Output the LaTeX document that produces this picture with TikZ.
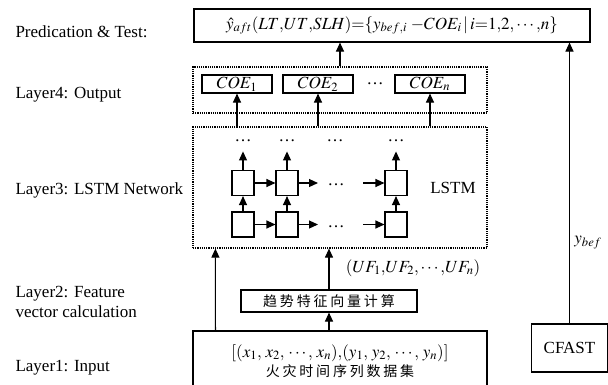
\documentclass[tikz,border=0pt]{standalone}
\usepackage{mathptmx}
\usepackage{fontspec}
\setmainfont{Liberation Serif}
\newfontfamily\cjk[LetterSpace=20]{Noto Sans CJK SC}
\usetikzlibrary{arrows.meta, positioning}
\tikzset{
  box/.style={draw, line width=1.1pt, inner sep=0pt},
  dotbox/.style={draw, line width=1.2pt, densely dotted, inner sep=0pt},
  cell/.style={draw, line width=1.1pt, minimum width=22, minimum height=25, inner sep=0pt},
  arr/.style={-{Triangle[length=9pt,width=8pt]}, line width=1.1pt},
  lbl/.style={anchor=west, align=left},
  dots/.style={anchor=base, inner sep=0pt},
}

\begin{document}
\begin{tikzpicture}[x=1pt, y=-1pt, font=\fontsize{17}{20}\selectfont]
    \useasboundingbox (0,0) rectangle (608,384);
    % layer names
    \node[lbl] (tpred) at (12,32) {Predication \& Test:};
    \node[lbl] (tout) at (12,95) {Layer4: Output};
    \node[lbl] (tlstm) at (12,190) {Layer3: LSTM Network};
    \node[lbl] (tfeat) at (12,302) {Layer2: Feature\\vector calculation};
    \node[lbl] (tin) at (12,368) {Layer1: Input};

    \node[box, minimum width=396, minimum height=33] (pred) at (392,25.5)
        {$\hat{y}_{aft}(LT{,}UT{,}SLH){=}\{y_{bef,i}\;{-}COE_i\,|\,i{=}1{,}2{,}\cdots{,}n\}$};

    % output layer
    \node[dotbox, minimum width=294, minimum height=46] (outbox) at (340,90) {};
    \node[box, minimum width=70, minimum height=18] (coe1) at (237,84) {$COE_1$};
    \node[box, minimum width=70, minimum height=18] (coe2) at (318,84) {$COE_2$};
    \node[box, minimum width=70, minimum height=18] (coen) at (430,84) {$COE_n$};
    \node (coedots) at (375,84) {\ldots};
    \draw[arr] (outbox.north) -- (pred.south -| outbox.north);

    % lstm layer
    \node[dotbox, minimum width=294, minimum height=121] (lstm) at (340,187.5) {};
    \draw[arr] (coe1.south |- lstm.north) -- (coe1.south);
    \draw[arr] (coe2.south |- lstm.north) -- (coe2.south);
    \draw[arr] (coen.south |- lstm.north) -- (coen.south);
    \node[cell] (u1) at (243,183) {};
    \node[cell] (u2) at (287,183) {};
    \node[cell] (u3) at (396,183) {};
    \node[cell] (l1) at (243,224.5) {};
    \node[cell] (l2) at (287,224.5) {};
    \node[cell] (l3) at (396,224.5) {};
    \node[dots] (d1) at (243,141) {\ldots};
    \node[dots] (d2) at (287,141) {\ldots};
    \node[dots] (dm) at (335,141) {\ldots};
    \node[dots] (d3) at (396,141) {\ldots};
    \foreach \c in {1,2,3} {
        \draw[arr] (l\c.north) -- (u\c.south);
        \draw[arr, shorten >=10pt] (u\c.north) -- (d\c.south);
    }
    \draw[arr] (u1.east) -- (u2.west);
    \draw[arr] (l1.east) -- (l2.west);
    \coordinate (ua) at (318,183);
    \coordinate (ub) at (363,183);
    \coordinate (la) at (318,224.5);
    \coordinate (lb) at (363,224.5);
    \node[dots] (ud) at (336,185) {\ldots};
    \node[dots] (ld) at (336,227) {\ldots};
    \draw[arr] (u2.east) -- (ua);
    \draw[arr] (ub) -- (u3.west);
    \draw[arr] (l2.east) -- (la);
    \draw[arr] (lb) -- (l3.west);
    \node (lstmtxt) at (453,188) {LSTM};

    % feature and input layers
    \node[box, minimum width=176, minimum height=22] (feat) at (329,301)
        {\cjk\fontsize{14}{16}\selectfont 趋势特征向量计算};
    \node[box, minimum width=294, minimum height=60, align=center] (inp) at (340,361)
        {$[(x_1,\,x_2,\,\cdots,\,x_n){,}(y_1,\,y_2,\,\cdots,\,y_n)]$\\[-1pt]
         {\cjk\fontsize{14}{16}\selectfont 火灾时间序列数据集}};
    \draw[arr] (feat.south |- inp.north) -- (feat.south);
    \draw[arr] (feat.north) -- (feat.north |- lstm.south);
    \draw[arr] ([xshift=23pt]inp.north west) -- ([xshift=23pt]lstm.south west);
    \node (uf) at (413,268) {$(UF_1{,}UF_2{,}\cdots{,}UF_n)$};

    % simulation branch
    \node[box, minimum width=76, minimum height=48] (cfast) at (569.5,348) {CFAST};
    \draw[arr] (cfast.north) -- (cfast.north |- pred.south);
    \node (ybef) at (588,243) {$y_{bef}$};
\end{tikzpicture}
\end{document}
